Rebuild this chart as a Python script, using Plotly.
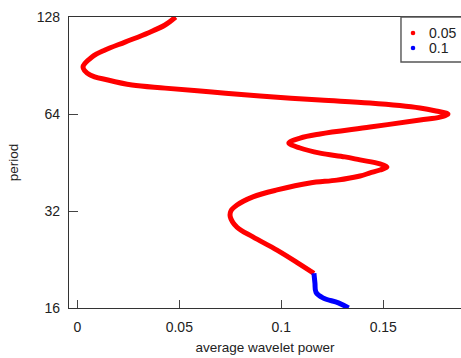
import plotly.graph_objects as go

# Average wavelet power vs period
period_red = [128.0, 120.9, 114.2, 107.0, 101.1, 96.2, 89.6, 84.6, 81.6, 78.7,
              77.0, 74.9, 72.8, 70.7, 69.2, 66.8, 65.4, 64.0, 62.6, 61.3,
              58.3, 55.5, 53.9, 52.0, 50.2, 48.4, 47.1, 46.1, 44.8, 43.8,
              42.9, 42.0, 41.1, 39.9, 39.1, 37.2, 35.4, 33.4, 32.0, 30.7,
              28.5, 26.6, 24.2, 22.1, 20.5]
power_red = [0.0482, 0.0430, 0.0347, 0.0234, 0.0136, 0.0072, 0.0028, 0.0062, 0.0150, 0.0268,
             0.0430, 0.0660, 0.0896, 0.1190, 0.1435, 0.1680, 0.1758, 0.1817, 0.1778, 0.1680,
             0.1435, 0.1190, 0.1092, 0.1037, 0.1092, 0.1190, 0.1312, 0.1386, 0.1484, 0.1518,
             0.1484, 0.1435, 0.1386, 0.1273, 0.1140, 0.0979, 0.0861, 0.0783, 0.0753, 0.0750,
             0.0783, 0.0861, 0.0979, 0.1080, 0.1160]

period_blue = [20.5, 19.1, 17.9, 17.2, 16.6, 16.0]
power_blue = [0.1160, 0.1165, 0.1170, 0.1204, 0.1280, 0.1330]

legend_labels = ["0.05", "0.1"]
colors = ["#ff0000", "#0000ff"]
y_ticks = [16, 32, 64, 128]
x_ticks = [0, 0.05, 0.1, 0.15]
x_ticktext = ["0", "0.05", "0.1", "0.15"]

FONT = "Liberation Sans, Arial, sans-serif"
TXT = "#222"

fig = go.Figure()
fig.add_trace(go.Scatter(x=power_red, y=period_red, mode="lines", name=legend_labels[0],
                         line=dict(color=colors[0], width=5, shape="spline"),
                         showlegend=False, hoverinfo="skip"))
fig.add_trace(go.Scatter(x=power_blue, y=period_blue, mode="lines", name=legend_labels[1],
                         line=dict(color=colors[1], width=5, shape="spline"),
                         showlegend=False, hoverinfo="skip"))

# Legend box (drawn in paper space, right side runs off the page as in the reference)
shapes = [dict(type="rect", xref="paper", yref="paper", x0=0.8469, x1=1.2, y0=0.8454, y1=1.0,
               line=dict(color="#555", width=1.4), fillcolor="rgba(0,0,0,0)", layer="above")]
annotations = []
leg_y = [0.945, 0.8935]
for lab, col, yy in zip(legend_labels, colors, leg_y):
    shapes.append(dict(type="circle", xref="paper", yref="paper", xsizemode="pixel",
                       ysizemode="pixel", xanchor=0.8776, yanchor=yy,
                       x0=-2.3, x1=2.3, y0=-2.3, y1=2.3,
                       line=dict(width=0), fillcolor=col, layer="above"))
    annotations.append(dict(text=lab, xref="paper", yref="paper", x=0.9133, y=yy,
                            xanchor="left", yanchor="middle", showarrow=False,
                            font=dict(size=14, color=TXT, family=FONT)))

fig.update_layout(
    width=461, height=358,
    margin=dict(l=69, r=0, t=17, b=50, autoexpand=False),
    paper_bgcolor="white", plot_bgcolor="white",
    font=dict(family=FONT, size=14, color=TXT),
    showlegend=False,
    shapes=shapes, annotations=annotations,
)
fig.update_xaxes(range=[-0.00407, 0.1881], tickvals=x_ticks, ticktext=x_ticktext,
                 ticks="inside", ticklen=8, tickcolor="#444", tickwidth=1,
                 showline=True, linecolor="#333", linewidth=1.3, mirror=True,
                 showgrid=False, zeroline=False, ticklabelstandoff=6,
                 title=dict(text="average wavelet power", font=dict(size=13.5), standoff=8))
fig.update_yaxes(type="log", range=[1.20412, 2.10721], tickvals=y_ticks,
                 ticktext=[str(v) for v in y_ticks],
                 ticks="inside", ticklen=9, tickcolor="#444", tickwidth=1,
                 showline=True, linecolor="#333", linewidth=1.3, mirror=False,
                 showgrid=False, zeroline=False, ticklabelstandoff=5,
                 title=dict(text="period", font=dict(size=13.5), standoff=14))

fig.write_html(
    "out.html",
    config={"displayModeBar": False},
    post_script="document.body.style.margin='0px';"
                "document.documentElement.style.overflow='hidden';",
)
